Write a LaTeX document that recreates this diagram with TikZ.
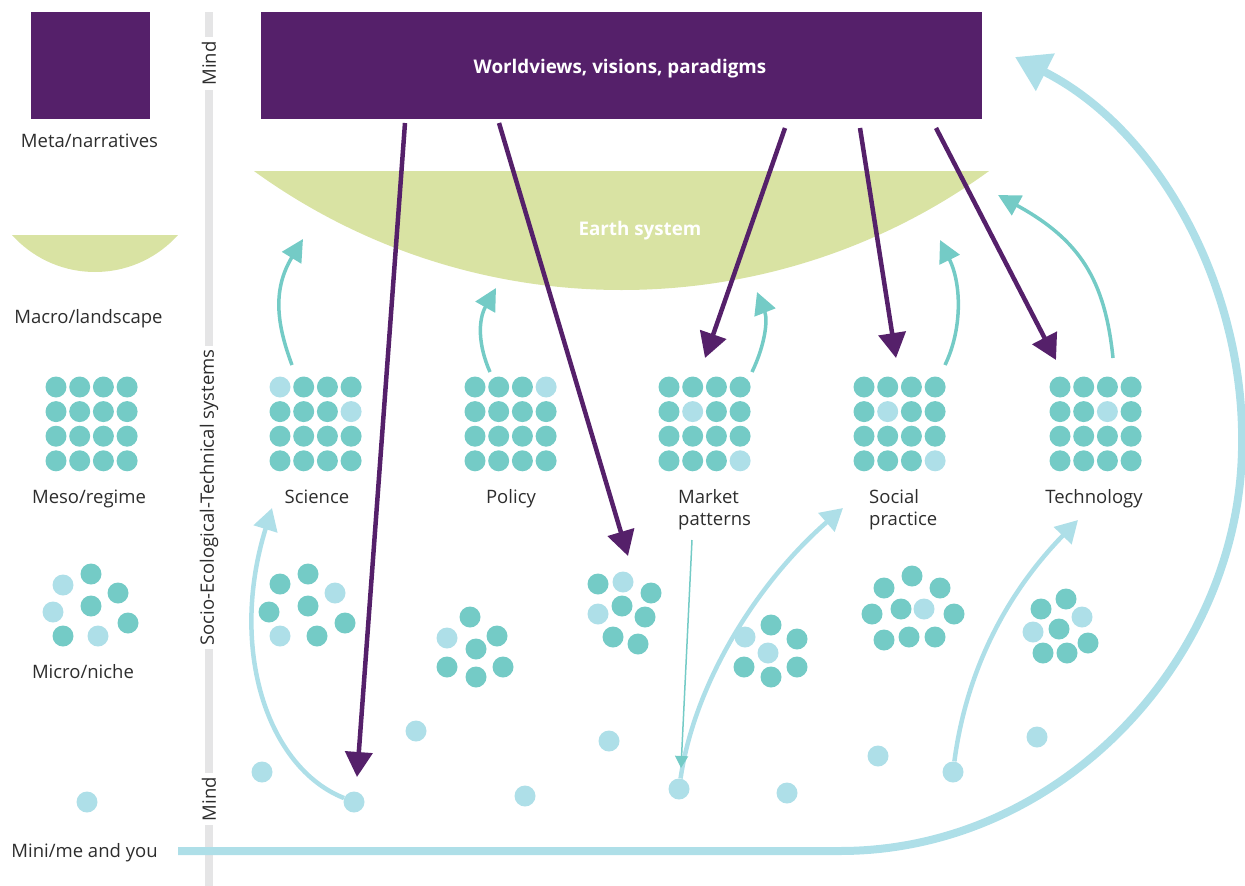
\documentclass[tikz,border=0pt]{standalone}
\usepackage{fontspec}
\setmainfont{Open Sans}
\usetikzlibrary{arrows.meta}
\definecolor{purp}{HTML}{55206A}
\definecolor{earth}{HTML}{D9E3A3}
\definecolor{tl}{HTML}{74CBC6}
\definecolor{lb}{HTML}{AEDFE8}
\definecolor{barc}{HTML}{E5E5E6}
\definecolor{txt}{HTML}{2D2D2D}
\makeatletter
\newcommand{\dotgrid}[4]{%
  \foreach \rr in {0,1,2,3}{\foreach \cc in {0,1,2,3}{%
    \edef\tmpin{\noexpand\in@{,\rr-\cc,}{,#4,}}\tmpin
    \ifin@\def\dc{lb}\else\def\dc{tl}\fi
    \node[dot,fill=\dc] (#1-\rr-\cc) at ({#2+\cc*23.7},{#3+\rr*24.6}) {};
  }}}
\makeatother
\newcommand{\dotset}[2]{%
  \foreach \xx/\yy/\cc [count=\ii] in {#2}{\node[dot,fill=\cc] (#1-\ii) at (\xx,\yy) {};}}
\tikzset{
  dot/.style={circle,inner sep=0pt,minimum size=21pt,draw=none},
  lab/.style={font=\fontsize{18.5}{22}\selectfont,text=txt,inner sep=0pt},
  boldlab/.style={font=\bfseries\fontsize{18.8}{22}\selectfont,text=white,anchor=base,inner sep=0pt},
  barlab/.style={lab,rotate=90,fill=white,inner xsep=4pt,inner ysep=1pt},
  parr/.style={draw=purp,line width=4.5pt,-{Triangle[length=25pt,width=27pt]}},
  tarr/.style={draw=tl,line width=3.5pt,-{Triangle[length=22pt,width=22pt]}},
  larr/.style={draw=lb,line width=4.5pt,-{Triangle[length=22pt,width=24pt]}},
  bigarr/.style={draw=lb,line width=8pt,-{Triangle[length=34pt,width=40pt]}},
  thinarr/.style={draw=tl,line width=1.5pt,-{Triangle[length=12pt,width=13pt]}},
}
\begin{document}
\begin{tikzpicture}[x=1pt,y=-1pt]
\useasboundingbox (0,0) rectangle (1245,886);
% vertical bar
\draw[barc,line width=8pt] (209,12) -- (209,886);
\node[barlab] (mind1) at (209,63.5) {Mind};
\node[barlab] (sets) at (209,497.5) {Socio-Ecological-Technical systems};
\node[barlab] (mind2) at (209,799) {Mind};
% legend
\fill[purp] (31,12) rectangle (150,118.5);
\node[lab,anchor=base] (lmeta) at (89.5,147) {Meta/narratives};
\begin{scope}
\clip (12,235) rectangle (178,300);
\fill[earth] (95,160.4) circle[radius=111.6pt];
\end{scope}
\node[lab,anchor=base] (lmacro) at (88.5,323) {Macro/landscape};
\dotgrid{lg}{56}{387}{x}
\node[lab,anchor=base] (lmeso) at (89,503) {Meso/regime};
\dotset{lm}{63/585/lb,91/574/tl,118/593/tl,53/612/lb,91/606/tl,128/623/tl,63/636/tl,98/636/lb}
\node[lab,anchor=base] (lmicro) at (83,678) {Micro/niche};
\node[dot,fill=lb] (lmini) at (87,802) {};
\node[lab,anchor=base] (mini) at (84.5,857) {Mini/me and you};
% top
\node[fill=purp,minimum width=721pt,minimum height=107pt,inner sep=0pt] (world) at (621.5,65.5) {};
\node[boldlab] (worldt) at (620,73) {Worldviews, visions, paradigms};
\begin{scope}
\clip (254,171) rectangle (989,320);
\fill[earth] (621.5,-337) circle[radius=627pt];
\end{scope}
\node[boldlab] (earthtxt) at (640,235) {Earth system};
% meso grids
\dotgrid{sci}{280}{387}{0-0,1-3}
\dotgrid{pol}{475}{387}{0-3}
\dotgrid{mkt}{669}{387}{1-1,3-3}
\dotgrid{soc}{864}{387}{1-1,3-3}
\dotgrid{tec}{1060}{387}{1-2}
\node[lab,anchor=base] (lsci) at (317,503) {Science};
\node[lab,anchor=base] (lpol) at (511,503) {Policy};
\node[lab,anchor=base west,align=left] (lmkt) at (678,525) {Market\\patterns};
\node[lab,anchor=base west,align=left] (lsoc) at (869,525) {Social\\practice};
\node[lab,anchor=base] (ltec) at (1094,503) {Technology};
% micro clusters
\dotset{ca}{280/584/tl,308/574/tl,335/593/lb,269/612/tl,308/606/tl,345/623/tl,280/636/lb,317/636/tl}
\dotset{cb}{470/617/tl,447/638/lb,497/636/tl,476/649/tl,447/667/tl,503/667/tl,476/677/tl}
\dotset{cc}{598/584/tl,623/582/lb,651/593/tl,598/614/lb,622/606/tl,645/617/tl,613/637/tl,638/644/tl}
\dotset{cd}{745/637/lb,771/625/tl,797/639/tl,768/653/lb,744/667/tl,797/667/tl,771/677/tl}
\dotset{ce}{912/576/tl,884/588/tl,940/588/tl,872/614/tl,901/609/tl,924/609/lb,954/614/tl,884/640/tl,909/637/tl,935/637/tl}
\dotset{cf}{1066/599/tl,1041/609/tl,1082/617/lb,1033/632/lb,1059/629/tl,1088/643/tl,1043/653/tl,1067/653/tl}
% single dots
\dotset{s}{262/772/lb,354/802/lb,416/731/lb,525/796/lb,609/741/lb,679/789/lb,787/793/lb,878/756/lb,953/772/lb,1037/737/lb}
% coordinates
\coordinate (p1s) at (405,123); \coordinate (p1e) at (357,777);
\coordinate (p2s) at (499,123); \coordinate (p2e) at (628,556);
\coordinate (p3s) at (785,128); \coordinate (p3e) at (705,358);
\coordinate (p4s) at (860,128); \coordinate (p4e) at (896,358);
\coordinate (p5s) at (936,128); \coordinate (p5e) at (1056,360);
\coordinate (t1s) at (292,365); \coordinate (t1e) at (303,239);
\coordinate (t2s) at (490,372); \coordinate (t2e) at (496,288);
\coordinate (t3s) at (752,372); \coordinate (t3e) at (757,292);
\coordinate (t4s) at (945,365); \coordinate (t4e) at (940,240);
\coordinate (t5s) at (1113,358); \coordinate (t5e) at (998,195);
\coordinate (l1e) at (272,508);
\coordinate (l2e) at (843,508);
\coordinate (l3e) at (1078,520);
\coordinate (ms) at (178,851);
\coordinate (mc) at (840,851);
\coordinate (mr) at (1242,450);
\coordinate (me) at (1015,57);
\coordinate (ths) at (692,540); \coordinate (the) at (681,768);
% purple arrows
\draw[parr] (p1s) -- (p1e);
\draw[parr] (p2s) -- (p2e);
\draw[parr] (p3s) -- (p3e);
\draw[parr] (p4s) -- (p4e);
\draw[parr] (p5s) -- (p5e);
% teal arrows
\draw[tarr] (t1s) .. controls (277,325) and (272,290) .. (t1e);
\draw[tarr] (t2s) .. controls (478,345) and (478,320) .. (t2e);
\draw[tarr] (t3s) .. controls (765,345) and (768,320) .. (t3e);
\draw[tarr] (t4s) .. controls (962,330) and (962,285) .. (t4e);
\draw[tarr] (t5s) .. controls (1105,280) and (1080,240) .. (t5e);
% light blue arrows
\draw[larr] (s-2) .. controls (268,768) and (228,650) .. (l1e);
\draw[larr] (s-6) .. controls (695,680) and (760,580) .. (l2e);
\draw[larr] (s-9) .. controls (965,680) and (1000,600) .. (l3e);
\draw[thinarr] (ths) -- (the);
% big curve
\draw[bigarr] (ms) -- (mc) .. controls (1060,851) and (1238,660) .. (mr) .. controls (1246,290) and (1160,130) .. (me);
\end{tikzpicture}
\end{document}
